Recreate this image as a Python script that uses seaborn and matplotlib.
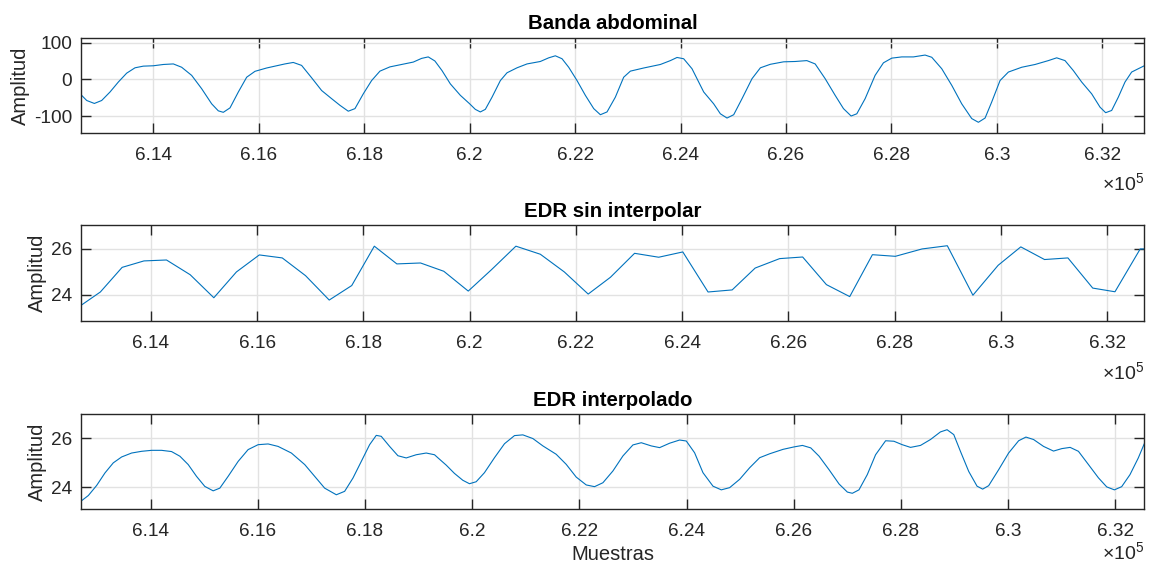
import matplotlib
matplotlib.use("Agg")
import matplotlib.pyplot as plt
import seaborn as sns
import pandas as pd
from matplotlib.ticker import FuncFormatter

# ---------------- data (sample index, amplitude) ----------------
abd_x = [612622, 612736, 612881, 613020, 613178, 613336, 613494, 613652, 613810, 614000,
         614190, 614379, 614537, 614727, 614916, 615106, 615232, 615327, 615454, 615612,
         615770, 615928, 616149, 616338, 616496, 616654, 616812, 617002, 617192, 617381,
         617539, 617697, 617824, 617982, 618140, 618298, 618487, 618708, 618930, 619088,
         619214, 619340,
         619475, 619633, 619823, 620000, 620107, 620202, 620297, 620424, 620582, 620708,
         620898, 621088, 621340, 621499, 621625, 621752, 621878, 622036, 622194, 622353,
         622479, 622605, 622763, 622921, 623048, 623301, 623617, 623807, 623933, 624059,
         624217, 624439, 624628, 624755, 624881, 625008, 625166, 625355, 625514, 625703,
         625955,
         626174, 626395, 626553, 626743, 626932, 627090, 627235, 627343, 627501, 627690,
         627848, 628006, 628196, 628417, 628638, 628765, 628954, 629144, 629333, 629523,
         629649, 629776, 629902, 630060, 630218, 630471, 630724, 630976, 631134, 631292,
         631450, 631608, 631798, 631956, 632063, 632177, 632303, 632430, 632556, 632682,
         632796]
abd_y = [-40.5, -57, -65, -57, -34, -7, 17, 31.5, 36, 37,
         40.5, 42, 33, 11, -25, -66, -85, -89, -77, -34,
         6, 22, 31, 37, 42, 46, 38, 4.5, -30, -52,
         -70, -86, -79, -39, -3, 22.5, 34, 40.5, 47, 57,
         61, 50,
         24, -12, -43, -66, -81, -88, -81, -48, -3, 18,
         31.5, 42, 48.6, 58.5, 64, 56, 33, -3, -43, -79,
         -95.5, -88, -48, 6, 22.5, 31, 40.5, 51, 59.5, 56,
         29, -34, -66, -93, -104.5, -95.5, -52, 2, 31.5, 41,
         47.7,
         48.6, 51, 42, 2, -43, -79, -99, -93, -52, 11,
         45, 57.7, 61, 61, 66, 60, 29, -16, -66, -106,
         -116, -104.5, -61, -3, 20, 33, 40.5, 51, 58.5, 51,
         24, -7, -39, -75, -90, -84, -48, -7, 20, 29,
         37]

edr_x = [612677, 613047, 613457, 613868, 614292, 614738, 615183, 615608, 616039, 616471,
         616909, 617355, 617779, 618204, 618628, 619074, 619512, 619972, 620410, 620869,
         621329, 621781, 622230, 622649, 623103, 623557, 624011, 624486, 624940, 625373,
         625834, 626267, 626714, 627153, 627580, 628012, 628515, 628990, 629472, 629947,
         630373, 630820, 631260, 631727, 632146, 632621, 632698]
edr_y = [23.54, 24.13, 25.20, 25.48, 25.52, 24.88, 23.88, 25.00, 25.74, 25.61,
         24.84, 23.78, 24.41, 26.12, 25.35, 25.39, 25.03, 24.17, 25.10, 26.12,
         25.77, 25.00, 24.04, 24.77, 25.81, 25.64, 25.87, 24.13, 24.22, 25.17,
         25.58, 25.65, 24.45, 23.93, 25.75, 25.68, 26.00, 26.14, 23.99, 25.29,
         26.09, 25.54, 25.61, 24.30, 24.14, 26.00, 26.00]

int_x = [612696, 612839, 612994, 613149, 613304, 613460, 613646, 613832, 614019, 614205,
         614391, 614547, 614702, 614857, 615012, 615168, 615292, 615447, 615634, 615820,
         616006, 616193, 616379, 616627, 616876, 617062, 617248, 617466, 617621, 617776,
         617932, 618087, 618211, 618304, 618460, 618615, 618770, 618956, 619143, 619298,
         619359, 619515, 619670, 619826, 619950, 620075, 620230, 620417, 620604, 620790,
         620946, 621133, 621320, 621568, 621755, 621942, 622129, 622284, 622440, 622627,
         622813, 623000, 623156, 623342, 623498, 623685, 623871, 623996, 624151, 624307,
         624494, 624649, 624805, 624992, 625178, 625365, 625552, 625801,
         626008, 626163, 626318, 626474, 626660, 626846, 627001, 627094, 627218, 627373,
         627528, 627715, 627870, 628025, 628180, 628366, 628552, 628738, 628862, 628987,
         629111, 629266, 629421, 629526, 629638, 629824, 630010, 630197, 630333, 630476,
         630662, 630848, 631003, 631158, 631313, 631500, 631686, 631841, 631984, 632120,
         632275, 632430, 632542]
int_y = [23.43, 23.67, 24.08, 24.59, 25.00, 25.24, 25.40, 25.47, 25.51, 25.51,
         25.46, 25.27, 24.93, 24.45, 24.04, 23.86, 23.97, 24.45, 25.06, 25.54,
         25.74, 25.77, 25.67, 25.40, 24.93, 24.45, 23.97, 23.70, 23.84, 24.38,
         25.06, 25.74, 26.12, 26.08, 25.67, 25.29, 25.20, 25.33, 25.40, 25.33,
         25.21, 24.91, 24.57, 24.29, 24.15, 24.23, 24.60, 25.21, 25.78, 26.11,
         26.14, 25.99, 25.69, 25.35, 24.94, 24.42, 24.10, 24.03, 24.19, 24.67,
         25.28, 25.73, 25.82, 25.69, 25.62, 25.80, 25.93, 25.89, 25.41, 24.60,
         24.05, 23.90, 23.99, 24.33, 24.80, 25.21, 25.37, 25.55,
         25.65, 25.71, 25.61, 25.27, 24.72, 24.14, 23.81, 23.76, 23.90, 24.52,
         25.33, 25.90, 25.88, 25.74, 25.63, 25.71, 25.95, 26.26, 26.35, 26.15,
         25.47, 24.65, 24.05, 23.93, 24.07, 24.72, 25.40, 25.90, 26.05, 25.95,
         25.67, 25.48, 25.58, 25.63, 25.47, 24.93, 24.39, 24.02, 23.90, 24.03,
         24.52, 25.20, 25.78]

titles = ["Banda abdominal", "EDR sin interpolar", "EDR interpolado"]
ylims = [(-145, 113), (22.87, 27.04), (23.12, 26.99)]
yticks = [[-100, 0, 100], [24, 26], [24, 26]]
xticks = list(range(614000, 632001, 2000))

# ---------------- style ----------------
sns.set_theme(style="whitegrid")
plt.rcParams["font.family"] = ["Liberation Sans", "DejaVu Sans"]
plt.rcParams["mathtext.fontset"] = "custom"
plt.rcParams["mathtext.rm"] = "Liberation Sans"
plt.rcParams["mathtext.it"] = "Liberation Sans"
plt.rcParams["lines.solid_joinstyle"] = "round"

TXT = "#262626"
LINE = "#0072BD"

fig = plt.figure(figsize=(11.51, 5.66), dpi=100)
W, H = 1151.0, 566.0
boxes = [(37.7, 133.0), (225.0, 321.0), (414.0, 509.0)]
axes = []
for top, bot in boxes:
    axes.append(fig.add_axes([80.7 / W, 1 - bot / H, 1063.6 / W, (bot - top) / H]))

series = [(abd_x, abd_y), (edr_x, edr_y), (int_x, int_y)]
for i, ax in enumerate(axes):
    x, y = series[i]
    df = pd.DataFrame({"Muestras": x, "Amplitud": y})
    sns.lineplot(data=df, x="Muestras", y="Amplitud", ax=ax, color=LINE,
                 linewidth=0.8, sort=False, estimator=None)
    ax.set_xlim(min(x), max(x))
    ax.set_ylim(*ylims[i])
    ax.set_xticks(xticks)
    ax.set_yticks(yticks[i])
    ax.xaxis.set_major_formatter(FuncFormatter(lambda v, p: f"{v / 1e5:g}"))
    ax.yaxis.set_major_formatter(FuncFormatter(lambda v, p: f"{v:g}"))
    ax.set_facecolor("white")
    ax.grid(True, color="#e2e2e2", linewidth=1.0)
    for sp in ax.spines.values():
        sp.set_visible(True)
        sp.set_color(TXT)
        sp.set_linewidth(1.0)
    ax.tick_params(axis="both", which="major", direction="in", length=7, width=1.0,
                   color=TXT, labelcolor=TXT, labelsize=13.7, top=True, right=True,
                   bottom=True, left=True)
    ax.tick_params(axis="x", pad=10)
    ax.tick_params(axis="y", pad=6)
    ax.set_title(titles[i], fontsize=14.7, fontweight="bold", color="black", pad=6)
    ax.set_ylabel("Amplitud", fontsize=14.5, color=TXT, labelpad=3)
    if i < 2:
        ax.set_xlabel("")
    else:
        ax.set_xlabel("Muestras", fontsize=14.5, color=TXT, labelpad=4)
    ax.text(1.0, -0.53 if i < 2 else -0.455, r"$\times10^{5}$", transform=ax.transAxes,
            ha="right", va="center", fontsize=14, color=TXT)

fig.savefig("out.png", dpi=100, facecolor="white")
